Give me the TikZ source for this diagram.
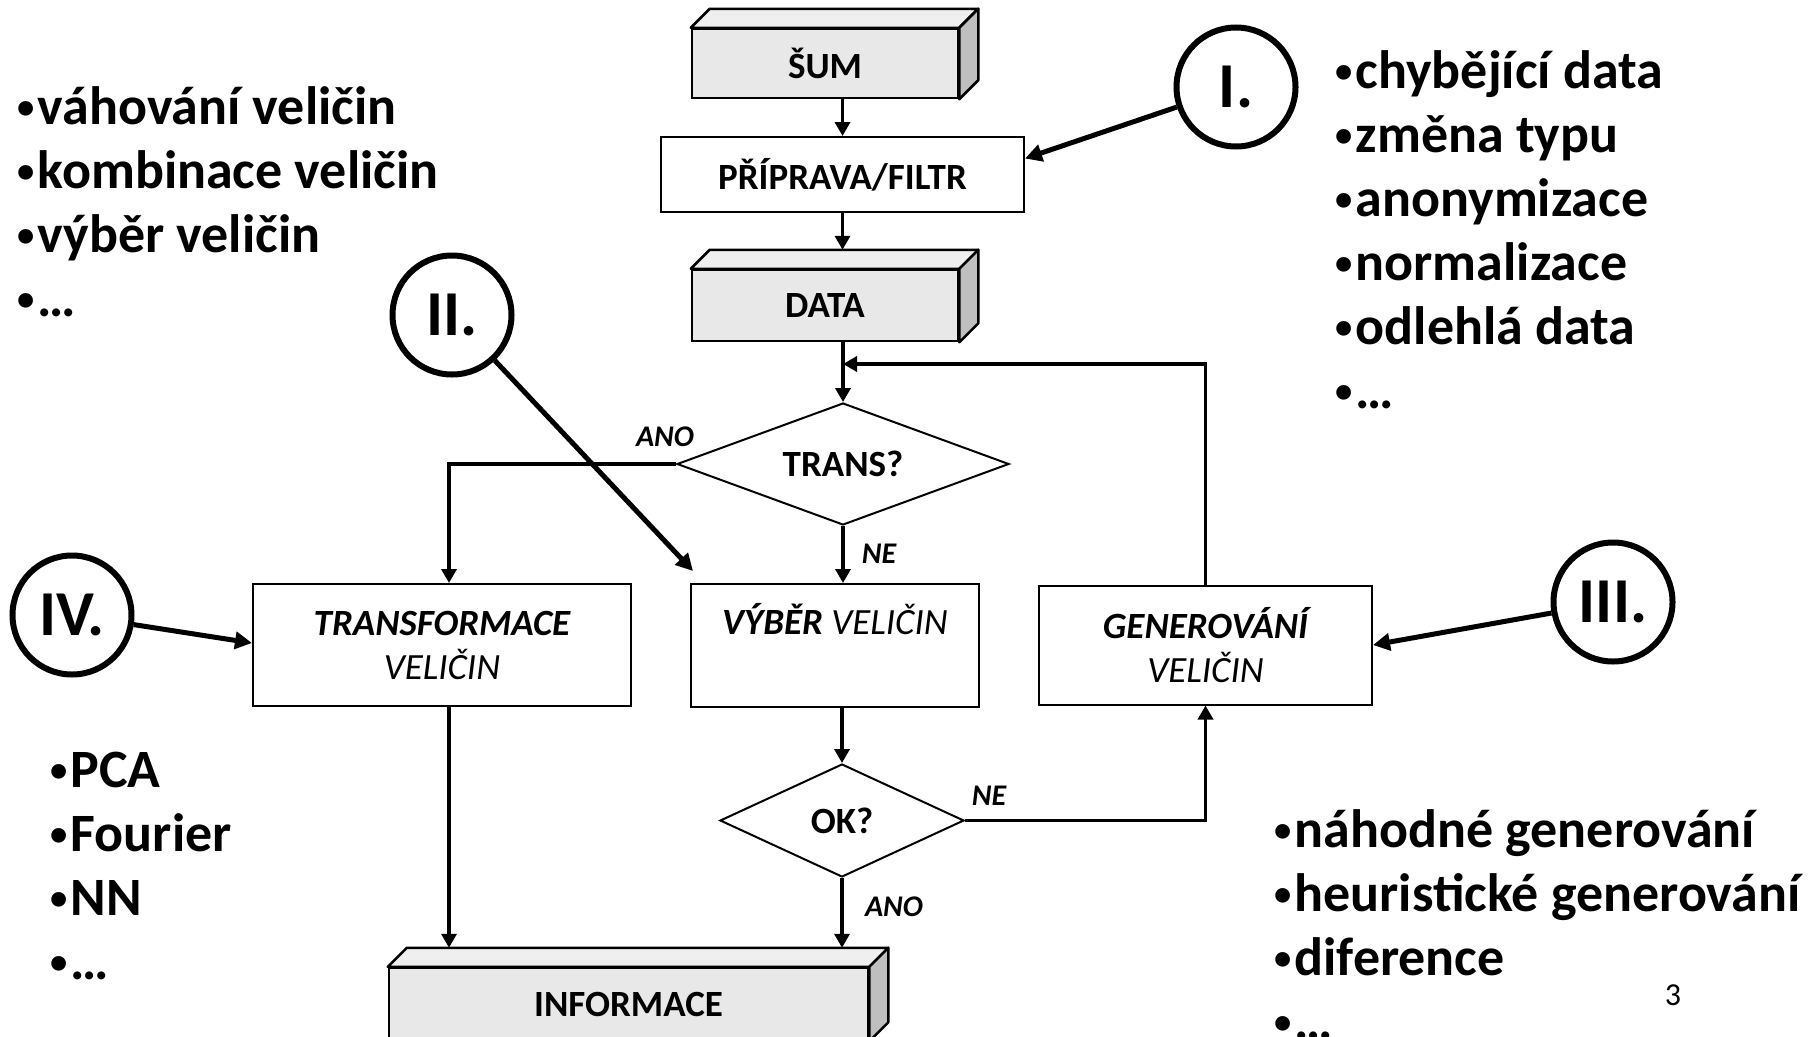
\documentclass[tikz,border=0pt]{standalone}
\usepackage{fontspec}
\usepackage{graphicx}
\setmainfont{Carlito}
\usetikzlibrary{arrows.meta,shapes.geometric,calc}
\definecolor{frontgray}{HTML}{E8E8E8}
\definecolor{topgray}{HTML}{EFEFEF}
\definecolor{sidegray}{HTML}{BFBFBF}
\newcommand\mycube[1]{%
  \draw[cubetop] (#1.north west) -- ++(19,-19) -- ([shift={(19pt,19pt)}]#1.north east) -- (#1.north east) -- cycle;
  \draw[cubeside] (#1.north east) -- ([shift={(19pt,19pt)}]#1.north east) -- ([shift={(19pt,19pt)}]#1.south east) -- (#1.south east) -- cycle;}
\newcommand\mybul{\raisebox{0.1em}{\scalebox{0.64}{•}}\hspace{0.06em}}
\begin{document}
\begin{tikzpicture}[x=1pt,y=-1pt,
  boxfont/.style={font=\fontsize{37}{44}\selectfont\bfseries},
  plainbox/.style={draw, line width=2pt, fill=white, inner sep=0pt, align=center, font=\fontsize{37}{44}\selectfont},
  cubefront/.style={draw, line width=2.5pt, fill=frontgray, inner sep=0pt, boxfont},
  cubetop/.style={draw, line width=2.5pt, fill=topgray, line join=round},
  cubeside/.style={draw, line width=2.5pt, fill=sidegray, line join=round},
  decision/.style={diamond, draw, line width=2pt, inner sep=0pt, fill=white, boxfont},
  flow/.style={line width=3.5pt, -{Triangle[length=14pt,width=15pt]}},
  numc/.style={circle, draw, line width=6pt, fill=white, minimum size=119pt, inner sep=0pt, font=\fontsize{64}{64}\selectfont\bfseries},
  numarrow/.style={line width=5pt, -{Triangle[length=17pt,width=17pt]}},
  yn/.style={font=\fontsize{30}{30}\selectfont\bfseries\itshape, inner sep=0pt},
  bul/.style={font=\fontsize{54}{64}\selectfont\bfseries, anchor=base west, inner sep=0pt}
]
\useasboundingbox (0,0) rectangle (1814,1036);
\clip (0,0) rectangle (1814,1036);

% 3D boxes
\node[cubefront, minimum width=266pt, minimum height=69pt] (sum) at (825,63.5) {ŠUM};
\mycube{sum}
\node[cubefront, minimum width=266pt, minimum height=71pt] (data) at (825,305.5) {DATA};
\mycube{data}
\node[cubefront, minimum width=479pt, minimum height=72pt] (info) at (628.5,1004) {INFORMACE};
\mycube{info}

% plain boxes
\node[plainbox, boxfont, minimum width=363pt, minimum height=75pt] (prep) at (842.5,174.5) {PŘÍPRAVA/FILTR};
\node[plainbox, minimum width=378pt, minimum height=122pt] (tr) at (442,645) {\bfseries\itshape TRANSFORMACE\\\itshape VELIČIN};
\node[plainbox, minimum width=288pt, minimum height=123pt] (vyb) at (835,645.5) {};
\node[inner sep=0pt, font=\fontsize{37}{44}\selectfont\itshape] (vybl) at (835,619) {\textbf{VÝBĚR} VELIČIN};
\node[plainbox, minimum width=333pt, minimum height=119pt] (gen) at (1205.5,645) {\bfseries\itshape GENEROVÁNÍ\\\itshape VELIČIN};

% decisions
\node[decision, minimum width=332pt, minimum height=122pt, aspect=2.72] (trans) at (843,464) {TRANS?};
\node[decision, minimum width=244pt, minimum height=113pt, aspect=2.16] (ok) at (842,820.5) {OK?};

% helper coordinates
\coordinate (datatop) at ([yshift=19pt]data.north);
\coordinate (infotop) at ([yshift=19pt]info.north);
\coordinate (join) at (843,364);

% flow connectors
\draw[flow] (prep.north |- sum.south) -- (prep.north);
\draw[flow] (prep.south) -- (prep.south |- datatop);
\draw[flow] (trans.north |- data.south) -- (trans.north);
\draw[flow] (gen.north) |- (join);
\draw[flow] (trans.west) -| ([xshift=7pt]tr.north);
\draw[flow] (trans.south) -- (trans.south |- vyb.north);
\draw[flow] (ok.north |- vyb.south) -- (ok.north);
\draw[flow] (ok.east) -| (gen.south);
\draw[flow] (ok.south) -- (ok.south |- infotop);
\draw[flow] ([xshift=7pt]tr.south) -- ([xshift=7pt]tr.south |- infotop);

% labels on connectors
\node[yn] (ano1) at (665,437) {ANO};
\node[yn] (ne1) at (879,554) {NE};
\node[yn] (ne2) at (989,796) {NE};
\node[yn] (ano2) at (894,907) {ANO};

% numbered circles
\node[numc] (cI) at (1236,87) {I.};
\node[numc] (cII) at (452,315) {II.};
\node[numc] (cIII) at (1613,602) {III.};
\node[numc] (cIV) at (72,615) {IV.};
\draw[numarrow] (cI) -- ([yshift=16pt]prep.east);
\draw[numarrow] (cII) -- ([shift={(3pt,12pt)}]vyb.north west);
\draw[numarrow] (cIII) -- (gen.east);
\draw[numarrow] (cIV) -- ([yshift=2pt]tr.west);

% bullet lists
\foreach \t [count=\i] in {váhování veličin, kombinace veličin, výběr veličin, …}
  \node[bul] (la\i) at (17,{124+64*(\i-1)}) {\mybul\t};
\foreach \t [count=\i] in {chybějící data, změna typu, anonymizace, normalizace, odlehlá data, …}
  \node[bul] (ra\i) at (1335,{88+64*(\i-1)}) {\mybul\t};
\foreach \t [count=\i] in {PCA, Fourier, NN, …}
  \node[bul] (lb\i) at (50,{787+64*(\i-1)}) {\mybul\t};
\foreach \t [count=\i] in {náhodné generování, heuristické generování, diference, …}
  \node[bul] (rb\i) at (1274,{847+64*(\i-1)}) {\mybul\t};

\node[inner sep=0pt, font=\fontsize{32}{32}\selectfont] (pg) at (1673,995) {3};
\end{tikzpicture}
\end{document}
